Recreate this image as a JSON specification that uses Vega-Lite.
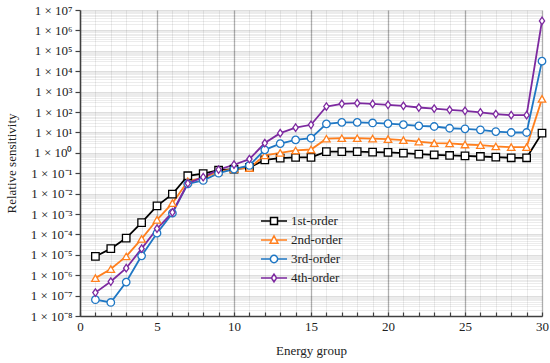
{
  "$schema": "https://vega.github.io/schema/vega-lite/v6.json",
  "width": 462,
  "height": 306,
  "autosize": {"type": "none"},
  "padding": {"left": 80, "top": 10, "right": 8, "bottom": 47},
  "background": "white",
  "config": {
    "view": {"stroke": null},
    "font": "Liberation Serif",
    "axis": {"labelFont": "Liberation Serif", "titleFont": "Liberation Serif", "labelColor": "#222", "titleColor": "#222", "titleFontWeight": "normal", "labelFontSize": 13, "titleFontSize": 13, "domainColor": "#404040", "domainWidth": 1.5, "tickColor": "#404040", "tickWidth": 1.2},
    "legend": {"labelFont": "Liberation Serif", "labelFontSize": 13, "labelColor": "#222"}
  },
  "data": {"values": [
    {"g":1,"order":"1st-order","v":8.3e-6},{"g":2,"order":"1st-order","v":2e-5},{"g":3,"order":"1st-order","v":6.6e-5},{"g":4,"order":"1st-order","v":3.8e-4},{"g":5,"order":"1st-order","v":2.5e-3},{"g":6,"order":"1st-order","v":9.4e-3},{"g":7,"order":"1st-order","v":0.075},{"g":8,"order":"1st-order","v":0.095},{"g":9,"order":"1st-order","v":0.14},{"g":10,"order":"1st-order","v":0.16},{"g":11,"order":"1st-order","v":0.19},{"g":12,"order":"1st-order","v":0.45},{"g":13,"order":"1st-order","v":0.55},{"g":14,"order":"1st-order","v":0.59},{"g":15,"order":"1st-order","v":0.6},{"g":16,"order":"1st-order","v":1.15},{"g":17,"order":"1st-order","v":1.15},{"g":18,"order":"1st-order","v":1.15},{"g":19,"order":"1st-order","v":1.08},{"g":20,"order":"1st-order","v":1.04},{"g":21,"order":"1st-order","v":0.96},{"g":22,"order":"1st-order","v":0.86},{"g":23,"order":"1st-order","v":0.8},{"g":24,"order":"1st-order","v":0.74},{"g":25,"order":"1st-order","v":0.71},{"g":26,"order":"1st-order","v":0.66},{"g":27,"order":"1st-order","v":0.61},{"g":28,"order":"1st-order","v":0.57},{"g":29,"order":"1st-order","v":0.57},{"g":30,"order":"1st-order","v":9.2},
    {"g":1,"order":"2nd-order","v":7.2e-7},{"g":2,"order":"2nd-order","v":2e-6},{"g":3,"order":"2nd-order","v":8.3e-6},{"g":4,"order":"2nd-order","v":6e-5},{"g":5,"order":"2nd-order","v":5.2e-4},{"g":6,"order":"2nd-order","v":3.4e-3},{"g":7,"order":"2nd-order","v":0.04},{"g":8,"order":"2nd-order","v":0.06},{"g":9,"order":"2nd-order","v":0.12},{"g":10,"order":"2nd-order","v":0.16},{"g":11,"order":"2nd-order","v":0.18},{"g":12,"order":"2nd-order","v":0.75},{"g":13,"order":"2nd-order","v":1.0},{"g":14,"order":"2nd-order","v":1.3},{"g":15,"order":"2nd-order","v":1.45},{"g":16,"order":"2nd-order","v":4.9},{"g":17,"order":"2nd-order","v":5.2},{"g":18,"order":"2nd-order","v":5.2},{"g":19,"order":"2nd-order","v":5.0},{"g":20,"order":"2nd-order","v":4.7},{"g":21,"order":"2nd-order","v":4.2},{"g":22,"order":"2nd-order","v":3.5},{"g":23,"order":"2nd-order","v":3.0},{"g":24,"order":"2nd-order","v":2.9},{"g":25,"order":"2nd-order","v":2.55},{"g":26,"order":"2nd-order","v":2.4},{"g":27,"order":"2nd-order","v":2.05},{"g":28,"order":"2nd-order","v":1.9},{"g":29,"order":"2nd-order","v":1.9},{"g":30,"order":"2nd-order","v":440},
    {"g":1,"order":"3rd-order","v":6.3e-8},{"g":2,"order":"3rd-order","v":4.6e-8},{"g":3,"order":"3rd-order","v":4.6e-7},{"g":4,"order":"3rd-order","v":8.9e-6},{"g":5,"order":"3rd-order","v":1.15e-4},{"g":6,"order":"3rd-order","v":1.1e-3},{"g":7,"order":"3rd-order","v":0.03},{"g":8,"order":"3rd-order","v":0.044},{"g":9,"order":"3rd-order","v":0.1},{"g":10,"order":"3rd-order","v":0.16},{"g":11,"order":"3rd-order","v":0.24},{"g":12,"order":"3rd-order","v":1.4},{"g":13,"order":"3rd-order","v":2.8},{"g":14,"order":"3rd-order","v":4.3},{"g":15,"order":"3rd-order","v":5.2},{"g":16,"order":"3rd-order","v":26},{"g":17,"order":"3rd-order","v":31},{"g":18,"order":"3rd-order","v":31},{"g":19,"order":"3rd-order","v":29},{"g":20,"order":"3rd-order","v":27},{"g":21,"order":"3rd-order","v":24},{"g":22,"order":"3rd-order","v":21},{"g":23,"order":"3rd-order","v":19.5},{"g":24,"order":"3rd-order","v":16},{"g":25,"order":"3rd-order","v":15},{"g":26,"order":"3rd-order","v":13.4},{"g":27,"order":"3rd-order","v":11},{"g":28,"order":"3rd-order","v":9.9},{"g":29,"order":"3rd-order","v":9.9},{"g":30,"order":"3rd-order","v":31000},
    {"g":1,"order":"4th-order","v":1.4e-7},{"g":2,"order":"4th-order","v":4.9e-7},{"g":3,"order":"4th-order","v":2.2e-6},{"g":4,"order":"4th-order","v":2e-5},{"g":5,"order":"4th-order","v":1.9e-4},{"g":6,"order":"4th-order","v":1.2e-3},{"g":7,"order":"4th-order","v":0.032},{"g":8,"order":"4th-order","v":0.064},{"g":9,"order":"4th-order","v":0.15},{"g":10,"order":"4th-order","v":0.26},{"g":11,"order":"4th-order","v":0.49},{"g":12,"order":"4th-order","v":3},{"g":13,"order":"4th-order","v":9.2},{"g":14,"order":"4th-order","v":17},{"g":15,"order":"4th-order","v":23.6},{"g":16,"order":"4th-order","v":186},{"g":17,"order":"4th-order","v":252},{"g":18,"order":"4th-order","v":272},{"g":19,"order":"4th-order","v":250},{"g":20,"order":"4th-order","v":225},{"g":21,"order":"4th-order","v":200},{"g":22,"order":"4th-order","v":166},{"g":23,"order":"4th-order","v":148},{"g":24,"order":"4th-order","v":128},{"g":25,"order":"4th-order","v":114},{"g":26,"order":"4th-order","v":95},{"g":27,"order":"4th-order","v":79},{"g":28,"order":"4th-order","v":70},{"g":29,"order":"4th-order","v":70},{"g":30,"order":"4th-order","v":2.9e6}
  ]},
  "encoding": {
    "x": {"field": "g", "type": "quantitative", "title": "Energy group",
      "scale": {"domain": [0, 30], "nice": false, "zero": false},
      "axis": {"values": [0,1,2,3,4,5,6,7,8,9,10,11,12,13,14,15,16,17,18,19,20,21,22,23,24,25,26,27,28,29,30],
        "labelExpr": "datum.value % 5 == 0 ? datum.label : ''",
        "labelOverlap": false, "labelFlush": false, "labelPadding": 8,
        "tickSize": -4, "titlePadding": 11,
        "grid": true,
        "gridColor": {"condition": {"test": "datum.value % 5 == 0", "value": "#b0b0b0"}, "value": "#ececec"},
        "gridWidth": {"condition": {"test": "datum.value % 5 == 0", "value": 1.3}, "value": 1}}},
    "y": {"field": "v", "type": "quantitative", "title": "Relative sensitivity",
      "scale": {"type": "log", "domain": [1e-8, 1e7], "nice": false},
      "axis": {"values": [1e-8,2e-8,3e-8,4e-8,5e-8,6e-8,7e-8,8e-8,9e-8,1e-7,2e-7,3e-7,4e-7,5e-7,6e-7,7e-7,8e-7,9e-7,1e-6,2e-6,3e-6,4e-6,5e-6,6e-6,7e-6,8e-6,9e-6,1e-5,2e-5,3e-5,4e-5,5e-5,6e-5,7e-5,8e-5,9e-5,1e-4,2e-4,3e-4,4e-4,5e-4,6e-4,7e-4,8e-4,9e-4,1e-3,2e-3,3e-3,4e-3,5e-3,6e-3,7e-3,8e-3,9e-3,0.01,0.02,0.03,0.04,0.05,0.06,0.07,0.08,0.09,0.1,0.2,0.3,0.4,0.5,0.6,0.7,0.8,0.9,1,2,3,4,5,6,7,8,9,10,20,30,40,50,60,70,80,90,100,200,300,400,500,600,700,800,900,1000,2000,3000,4000,5000,6000,7000,8000,9000,1e4,2e4,3e4,4e4,5e4,6e4,7e4,8e4,9e4,1e5,2e5,3e5,4e5,5e5,6e5,7e5,8e5,9e5,1e6,2e6,3e6,4e6,5e6,6e6,7e6,8e6,9e6,1e7],
        "labelExpr": "abs(log(datum.value)/LN10 - round(log(datum.value)/LN10)) < 0.01 ? '1 × 10' + (round(log(datum.value)/LN10) < 0 ? '⁻' : '') + ['⁰','¹','²','³','⁴','⁵','⁶','⁷','⁸','⁹'][abs(round(log(datum.value)/LN10))] : ''",
        "labelOverlap": false, "labelFlush": false, "labelPadding": 3,
        "tickSize": 5,
        "tickOpacity": {"condition": {"test": "abs(log(datum.value)/LN10 - round(log(datum.value)/LN10)) < 0.01", "value": 1}, "value": 0},
        "grid": true,
        "gridColor": "#000000",
        "gridOpacity": {"condition": {"test": "abs(log(datum.value)/LN10 - round(log(datum.value)/LN10)) < 0.01", "value": 0.13}, "value": 0.075},
        "titlePadding": 12}}
  },
  "layer": [
    {"mark": {"type": "line", "strokeWidth": 1.8},
     "encoding": {"color": {"field": "order", "type": "nominal", "legend": null,
       "scale": {"domain": ["1st-order","2nd-order","3rd-order","4th-order"], "range": ["#000000","#ff7f1e","#1f77c4","#7d2aa0"]}}}},
    {"mark": {"type": "point", "filled": false, "fill": "white", "fillOpacity": 1, "opacity": 1, "strokeWidth": 1.3, "size": 56},
     "encoding": {
       "stroke": {"field": "order", "type": "nominal", "legend": null,
         "scale": {"domain": ["1st-order","2nd-order","3rd-order","4th-order"], "range": ["#000000","#ff7f1e","#1f77c4","#7d2aa0"]}},
       "shape": {"field": "order", "type": "nominal", "legend": null,
         "scale": {"domain": ["1st-order","2nd-order","3rd-order","4th-order"], "range": ["square","triangle-up","circle","M0,-1L0.7,0L0,1L-0.7,0Z"]}}}},
    {"mark": {"type": "point", "filled": false, "fill": "white", "opacity": 0, "strokeWidth": 1.5, "size": 196},
     "encoding": {
       "stroke": {"field": "order", "type": "nominal", "title": null,
         "scale": {"domain": ["1st-order","2nd-order","3rd-order","4th-order"], "range": ["#000000","#ff7f1e","#1f77c4","#7d2aa0"]},
         "legend": {"orient": "none", "legendX": 186, "legendY": 203, "padding": 0, "symbolSize": 196, "symbolOpacity": 1, "symbolStrokeWidth": 1.5, "symbolFillColor": "white", "labelOffset": 9, "rowPadding": 4, "title": null}},
       "shape": {"field": "order", "type": "nominal", "title": null,
         "scale": {"domain": ["1st-order","2nd-order","3rd-order","4th-order"], "range": [
           "M-1.86,0H-0.5M0.5,0H1.86M-0.5,-0.5H0.5V0.5H-0.5Z",
           "M-1.86,0H-0.32M0.32,0H1.86M0,-0.6L0.56,0.45L-0.56,0.45Z",
           "M-1.86,0H-0.52M0.52,0H1.86M0.52,0A0.52,0.52 0 1,1 -0.52,0A0.52,0.52 0 1,1 0.52,0Z",
           "M-1.86,0H-0.37M0.37,0H1.86M0,-0.56L0.37,0L0,0.56L-0.37,0Z"]},
         "legend": {"orient": "none", "legendX": 186, "legendY": 203, "padding": 0, "symbolSize": 196, "symbolOpacity": 1, "symbolStrokeWidth": 1.5, "symbolFillColor": "white", "labelOffset": 9, "rowPadding": 4, "title": null}}}}
  ],
  "resolve": {"scale": {"stroke": "independent", "shape": "independent"}}
}
